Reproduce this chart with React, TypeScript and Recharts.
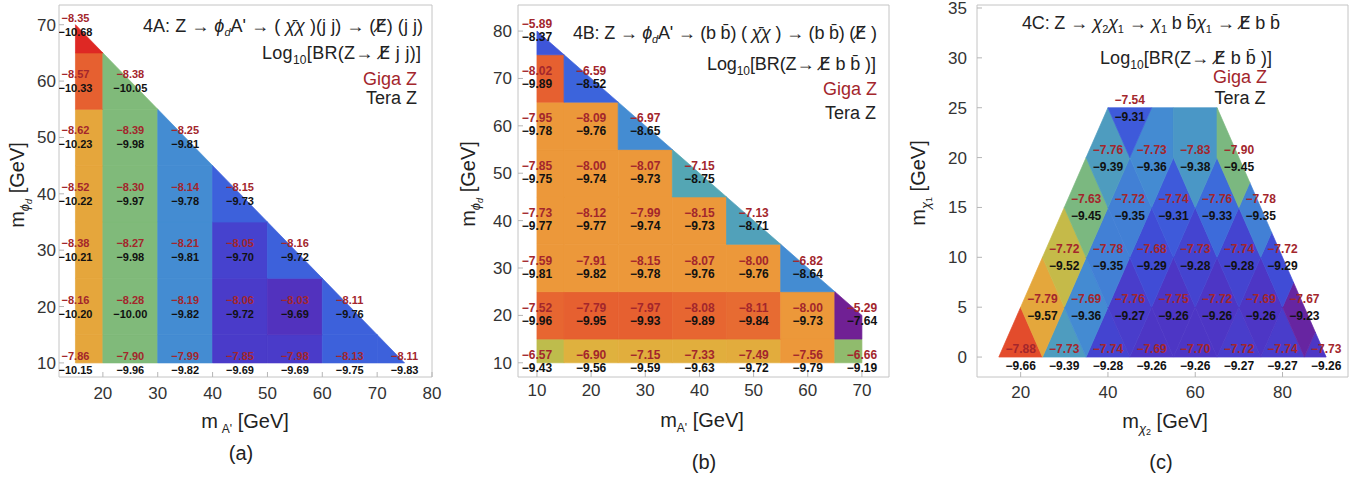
import React from 'react';
import { ScatterChart, Scatter, XAxis, YAxis, ReferenceArea, Customized } from 'recharts';

const FONT = '"Liberation Sans", Arial, Helvetica, sans-serif';
const SYM = '"DejaVu Sans", "Liberation Sans", sans-serif';

// ---------------- Panel (a): 4A ----------------
const mAprimeA = [15, 25, 35, 45, 55, 65, 75];
const mPhiA = [10, 20, 30, 40, 50, 60, 70];
const gigaA = [
  [-7.86, -7.9, -7.99, -7.85, -7.98, -8.13, -8.11],
  [-8.16, -8.28, -8.19, -8.06, -8.03, -8.11],
  [-8.38, -8.27, -8.21, -8.05, -8.16],
  [-8.52, -8.3, -8.14, -8.15],
  [-8.62, -8.39, -8.25],
  [-8.57, -8.38],
  [-8.35],
];
const teraA = [
  [-10.15, -9.96, -9.82, -9.69, -9.69, -9.75, -9.83],
  [-10.2, -10.0, -9.82, -9.72, -9.69, -9.76],
  [-10.21, -9.98, -9.81, -9.7, -9.72],
  [-10.22, -9.97, -9.78, -9.73],
  [-10.23, -9.98, -9.81],
  [-10.33, -10.05],
  [-10.68],
];
// density shade of each cell on the colour bar (0 = purple ... 1 = red)
const shadeA = [
  [0.75, 0.5, 0.3, 0.1, 0.1, 0.21, 0.21],
  [0.75, 0.5, 0.3, 0.1, 0.07, 0.21],
  [0.75, 0.5, 0.3, 0.12, 0.21],
  [0.75, 0.5, 0.3, 0.21],
  [0.75, 0.5, 0.3],
  [0.9, 0.5],
  [1.0],
];
const regionA: [number, number][] = [[15, 10], [75, 10], [15, 70]];
const xTicksA = [20, 30, 40, 50, 60, 70, 80];
const yTicksA = [10, 20, 30, 40, 50, 60, 70];

// ---------------- Panel (b): 4B ----------------
const mAprimeB = [10, 20, 30, 40, 50, 60, 70];
const mPhiB = [10, 20, 30, 40, 50, 60, 70, 80];
const gigaB = [
  [-6.57, -6.9, -7.15, -7.33, -7.49, -7.56, -6.66],
  [-7.52, -7.79, -7.97, -8.08, -8.11, -8.0, -5.29],
  [-7.59, -7.91, -8.15, -8.07, -8.0, -6.82],
  [-7.73, -8.12, -7.99, -8.15, -7.13],
  [-7.85, -8.0, -8.07, -7.15],
  [-7.95, -8.09, -6.97],
  [-8.02, -6.59],
  [-5.89],
];
const teraB = [
  [-9.43, -9.56, -9.59, -9.63, -9.72, -9.79, -9.19],
  [-9.96, -9.95, -9.93, -9.89, -9.84, -9.73, -7.64],
  [-9.81, -9.82, -9.78, -9.76, -9.76, -8.64],
  [-9.77, -9.77, -9.74, -9.73, -8.71],
  [-9.75, -9.74, -9.73, -8.75],
  [-9.78, -9.76, -8.65],
  [-9.89, -8.52],
  [-8.37],
];
const shadeB = [
  [0.62, 0.71, 0.72, 0.72, 0.73, 0.8, 0.53],
  [0.89, 0.9, 0.9, 0.89, 0.88, 0.8, 0.0],
  [0.8, 0.8, 0.8, 0.8, 0.8, 0.3],
  [0.8, 0.8, 0.8, 0.8, 0.38],
  [0.8, 0.8, 0.8, 0.4],
  [0.8, 0.8, 0.3],
  [0.9, 0.22],
  [0.18],
];
const regionB: [number, number][] = [[10, 10], [70, 10], [70, 20], [10, 80]];
const xTicksB = [10, 20, 30, 40, 50, 60, 70];
const yTicksB = [10, 20, 30, 40, 50, 60, 70, 80];

// ---------------- Panel (c): 4C ----------------
const mChi1C = [0, 5, 10, 15, 20, 25];
const mChi2C = [
  [20, 30, 40, 50, 60, 70, 80, 90],
  [25, 35, 45, 55, 65, 75, 85],
  [30, 40, 50, 60, 70, 80],
  [35, 45, 55, 65, 75],
  [40, 50, 60, 70],
  [45],
];
const gigaC = [
  [-7.88, -7.73, -7.74, -7.69, -7.7, -7.72, -7.74, -7.73],
  [-7.79, -7.69, -7.76, -7.75, -7.72, -7.69, -7.67],
  [-7.72, -7.78, -7.68, -7.73, -7.74, -7.72],
  [-7.63, -7.72, -7.74, -7.76, -7.78],
  [-7.76, -7.73, -7.83, -7.9],
  [-7.54],
];
const teraC = [
  [-9.66, -9.39, -9.28, -9.26, -9.26, -9.27, -9.27, -9.26],
  [-9.57, -9.36, -9.27, -9.26, -9.26, -9.26, -9.23],
  [-9.52, -9.35, -9.29, -9.28, -9.28, -9.29],
  [-9.45, -9.35, -9.31, -9.33, -9.35],
  [-9.39, -9.36, -9.38, -9.45],
  [-9.31],
];
const shadeRangeC = [-9.22, -9.69];
const regionC: [number, number][] = [[15, 0], [90, 0], [65, 25], [40, 25]];
const xTicksC = [20, 40, 60, 80];
const yTicksC = [0, 5, 10, 15, 20, 25, 30, 35];

// ---------------- helpers ----------------
type Pt = { x: number; y: number; giga: number; tera: number; shade: number };

const rainbowStops: [number, number[]][] = [
  [0.0, [112, 32, 148]],
  [0.08, [78, 52, 196]],
  [0.15, [64, 76, 214]],
  [0.22, [60, 100, 220]],
  [0.3, [68, 140, 210]],
  [0.4, [84, 166, 180]],
  [0.5, [128, 186, 122]],
  [0.6, [182, 190, 80]],
  [0.7, [222, 180, 62]],
  [0.8, [236, 152, 58]],
  [0.9, [230, 96, 48]],
  [1.0, [222, 40, 36]],
];
function rainbow(t: number) {
  const tt = Math.max(0, Math.min(1, t));
  for (let i = 1; i < rainbowStops.length; i++) {
    const [t1, c1] = rainbowStops[i];
    const [t0, c0] = rainbowStops[i - 1];
    if (tt <= t1) {
      const f = (tt - t0) / (t1 - t0);
      const c = c0.map((v, k) => Math.round(v + f * (c1[k] - v)));
      return `rgb(${c[0]},${c[1]},${c[2]})`;
    }
  }
  return 'rgb(222,40,36)';
}

function buildPoints(xsRows: number[][], ys: number[], giga: number[][], tera: number[][], shade: number[][]): Pt[] {
  const out: Pt[] = [];
  ys.forEach((y, r) => {
    giga[r].forEach((g, c) => {
      out.push({ x: xsRows[r][c], y, giga: g, tera: tera[r][c], shade: shade[r][c] });
    });
  });
  return out;
}

function clipHalf(poly: [number, number][], a: number, b: number, c: number) {
  const out: [number, number][] = [];
  for (let i = 0; i < poly.length; i++) {
    const P = poly[i];
    const Q = poly[(i + 1) % poly.length];
    const fp = a * P[0] + b * P[1] - c;
    const fq = a * Q[0] + b * Q[1] - c;
    if (fp <= 1e-9) out.push(P);
    if ((fp < -1e-9 && fq > 1e-9) || (fp > 1e-9 && fq < -1e-9)) {
      const t = fp / (fp - fq);
      out.push([P[0] + t * (Q[0] - P[0]), P[1] + t * (Q[1] - P[1])]);
    }
  }
  return out;
}

function voronoiCells(points: Pt[], region: [number, number][]) {
  return points.map((p, i) => {
    let poly = region.slice();
    points.forEach((q, j) => {
      if (i === j || poly.length === 0) return;
      const a = q.x - p.x;
      const b = q.y - p.y;
      const c = (q.x * q.x + q.y * q.y - p.x * p.x - p.y * p.y) / 2;
      poly = clipHalf(poly, a, b, c);
    });
    return poly;
  });
}

const fmt = (v: number) => v.toFixed(2).replace('-', '\u2212');

type PanelProps = {
  width: number;
  height: number;
  margin: { top: number; right: number; bottom: number; left: number };
  xDomain: [number, number];
  yDomain: [number, number];
  xTicks: number[];
  yTicks: number[];
  points: Pt[];
  region: [number, number][];
  xTickMargin: number;
  yTickMargin: number;
  redDy: number;
  blackDy: number;
  labelSize: number;
  annotations: () => React.ReactElement;
};

function Panel(props: PanelProps) {
  const { width, height, margin, xDomain, yDomain, xTicks, yTicks, points, region } = props;
  const polys = voronoiCells(points, region);
  const verts: { x: number; y: number }[] = [];
  const counts: number[] = [];
  polys.forEach((poly) => {
    counts.push(poly.length);
    poly.forEach(([x, y]) => verts.push({ x, y }));
  });
  const renderCells = (lp: any) => {
    const pts = lp.points || [];
    let k = 0;
    return (
      <g>
        {polys.map((poly, i) => {
          const seg = pts.slice(k, k + counts[i]);
          k += counts[i];
          if (seg.length < 3) return null;
          const col = rainbow(points[i].shade);
          return (
            <polygon
              key={i}
              points={seg.map((p: any) => `${p.x},${p.y}`).join(' ')}
              fill={col}
              stroke={col}
              strokeWidth={0.7}
              strokeLinejoin="round"
            />
          );
        })}
      </g>
    );
  };
  const renderLabel = (sp: any) => {
    const { cx, cy, payload } = sp;
    return (
      <g>
        <text x={cx} y={cy + props.redDy} textAnchor="middle" fontSize={props.labelSize} fontWeight="bold" fill="#a3262c" fontFamily={FONT}>
          {fmt(payload.giga)}
        </text>
        <text x={cx} y={cy + props.blackDy} textAnchor="middle" fontSize={props.labelSize} fontWeight="bold" fill="#111" fontFamily={FONT}>
          {fmt(payload.tera)}
        </text>
      </g>
    );
  };
  const tickStyle = { fontSize: 17, fill: '#333', fontFamily: FONT };
  const Ann = props.annotations;
  return (
    <ScatterChart width={width} height={height} margin={margin}>
      <XAxis
        type="number"
        dataKey="x"
        domain={xDomain}
        ticks={xTicks}
        interval={0}
        allowDataOverflow
        axisLine={false}
        tickLine={{ stroke: '#b5b5b5' }}
        tickSize={-5}
        tickMargin={props.xTickMargin + 5}
        height={40}
        tick={tickStyle}
      />
      <YAxis
        type="number"
        dataKey="y"
        domain={yDomain}
        ticks={yTicks}
        interval={0}
        allowDataOverflow
        axisLine={false}
        tickLine={{ stroke: '#b5b5b5' }}
        tickSize={-5}
        tickMargin={props.yTickMargin + 5}
        width={50}
        tick={tickStyle}
      />
      <ReferenceArea
        x1={xDomain[0]}
        x2={xDomain[1]}
        y1={yDomain[0]}
        y2={yDomain[1]}
        fill="none"
        fillOpacity={0}
        stroke="#c4c4c4"
        strokeWidth={1}
        ifOverflow="visible"
      />
      <Scatter
        data={verts}
        isAnimationActive={false}
        shape={() => <g />}
        line={renderCells as any}
        lineType="joint"
      />
      <Scatter data={points} isAnimationActive={false} shape={renderLabel as any} />
      <Customized component={Ann as any} />
    </ScatterChart>
  );
}

const T = { fontFamily: FONT, fill: '#222' } as const;

function AnnA() {
  return (
    <g>
      <text x={423} y={31.5} textAnchor="end" fontSize={18} textLength={280} lengthAdjust="spacing" {...T}>
        <tspan>{'4A: Z \u2192 '}</tspan>
        <tspan fontStyle="italic">{'\u03d5'}</tspan>
        <tspan fontSize={11} dy={4} fontStyle="italic">d</tspan>
        <tspan dy={-4}>{"A' \u2192 ( "}</tspan>
        <tspan fontStyle="italic">{'\u03c7\u0304\u03c7'}</tspan>
        <tspan>{' )(j j) \u2192 ('}</tspan>
        <tspan fontFamily={SYM}>{'E\u0338'}</tspan>
        <tspan>{') (j j)'}</tspan>
      </text>
      <text x={421} y={59} textAnchor="end" fontSize={18} textLength={159} lengthAdjust="spacing" {...T}>
        <tspan>Log</tspan>
        <tspan fontSize={12} dy={5}>10</tspan>
        <tspan dy={-5}>{'[BR(Z\u2192 '}</tspan>
        <tspan fontFamily={SYM}>{'E\u0338'}</tspan>
        <tspan>{' j j)]'}</tspan>
      </text>
      <text x={417} y={84.5} textAnchor="end" fontSize={18} fontFamily={FONT} fill="#a3262c">Giga Z</text>
      <text x={417} y={103.5} textAnchor="end" fontSize={18} {...T}>Tera Z</text>
      <text x={245} y={428} textAnchor="middle" fontSize={20} {...T}>
        <tspan>m</tspan>
        <tspan fontSize={12} dx={4} dy={5}>{"A'"}</tspan>
        <tspan dy={-5}>{' [GeV]'}</tspan>
      </text>
      <text x={24} y={185} textAnchor="middle" fontSize={20} transform="rotate(-90, 24, 185)" {...T}>
        <tspan>m</tspan>
        <tspan fontSize={13} dy={5} fontStyle="italic">{'\u03d5'}</tspan>
        <tspan fontSize={9} dy={3} fontStyle="italic">d</tspan>
        <tspan dy={-8}>{' [GeV]'}</tspan>
      </text>
      <text x={241} y={460} textAnchor="middle" fontSize={20} {...T}>(a)</text>
    </g>
  );
}

function AnnB() {
  return (
    <g>
      <text x={422} y={38.5} textAnchor="end" fontSize={18} textLength={304} lengthAdjust="spacing" {...T}>
        <tspan>{'4B: Z \u2192 '}</tspan>
        <tspan fontStyle="italic">{'\u03d5'}</tspan>
        <tspan fontSize={11} dy={4} fontStyle="italic">d</tspan>
        <tspan dy={-4}>{"A' \u2192 (b b\u0304) ( "}</tspan>
        <tspan fontStyle="italic">{'\u03c7\u0304\u03c7'}</tspan>
        <tspan>{' ) \u2192 (b b\u0304) ('}</tspan>
        <tspan fontFamily={SYM}>{'E\u0338'}</tspan>
        <tspan>{' )'}</tspan>
      </text>
      <text x={421} y={69.5} textAnchor="end" fontSize={18} textLength={169} lengthAdjust="spacing" {...T}>
        <tspan>Log</tspan>
        <tspan fontSize={12} dy={5}>10</tspan>
        <tspan dy={-5}>{'[BR(Z\u2192 '}</tspan>
        <tspan fontFamily={SYM}>{'E\u0338'}</tspan>
        <tspan>{' b b\u0304 )]'}</tspan>
      </text>
      <text x={422} y={94.5} textAnchor="end" fontSize={18} fontFamily={FONT} fill="#a3262c">Giga Z</text>
      <text x={421} y={118.5} textAnchor="end" fontSize={18} {...T}>Tera Z</text>
      <text x={247} y={427} textAnchor="middle" fontSize={20} {...T}>
        <tspan>m</tspan>
        <tspan fontSize={12} dy={5}>{"A'"}</tspan>
        <tspan dy={-5}>{' [GeV]'}</tspan>
      </text>
      <text x={20} y={184} textAnchor="middle" fontSize={20} transform="rotate(-90, 20, 184)" {...T}>
        <tspan>m</tspan>
        <tspan fontSize={13} dy={5} fontStyle="italic">{'\u03d5'}</tspan>
        <tspan fontSize={9} dy={3} fontStyle="italic">d</tspan>
        <tspan dy={-8}>{' [GeV]'}</tspan>
      </text>
      <text x={249} y={469} textAnchor="middle" fontSize={20} {...T}>(b)</text>
    </g>
  );
}

function AnnC() {
  return (
    <g>
      <text x={375} y={28.5} textAnchor="end" fontSize={18} textLength={258} lengthAdjust="spacing" {...T}>
        <tspan>{'4C: Z \u2192 '}</tspan>
        <tspan fontStyle="italic">{'\u03c7'}</tspan>
        <tspan fontSize={11} dy={4}>2</tspan>
        <tspan dy={-4} fontStyle="italic">{'\u03c7'}</tspan>
        <tspan fontSize={11} dy={4}>1</tspan>
        <tspan dy={-4}>{' \u2192 '}</tspan>
        <tspan fontStyle="italic">{'\u03c7'}</tspan>
        <tspan fontSize={11} dy={4}>1</tspan>
        <tspan dy={-4}>{' b b\u0304'}</tspan>
        <tspan fontStyle="italic">{'\u03c7'}</tspan>
        <tspan fontSize={11} dy={4}>1</tspan>
        <tspan dy={-4}>{' \u2192 '}</tspan>
        <tspan fontFamily={SYM}>{'E\u0338'}</tspan>
        <tspan>{'  b b\u0304'}</tspan>
      </text>
      <text x={367} y={63.5} textAnchor="end" fontSize={18} textLength={172} lengthAdjust="spacing" {...T}>
        <tspan>Log</tspan>
        <tspan fontSize={12} dy={5}>10</tspan>
        <tspan dy={-5}>{'[BR(Z\u2192 '}</tspan>
        <tspan fontFamily={SYM}>{'E\u0338'}</tspan>
        <tspan>{' b b\u0304 )]'}</tspan>
      </text>
      <text x={335} y={82.5} textAnchor="middle" fontSize={18} fontFamily={FONT} fill="#a3262c">Giga Z</text>
      <text x={335} y={103.5} textAnchor="middle" fontSize={18} {...T}>Tera Z</text>
      <text x={260} y={428} textAnchor="middle" fontSize={20} {...T}>
        <tspan>m</tspan>
        <tspan fontSize={13} dy={5} fontStyle="italic">{'\u03c7'}</tspan>
        <tspan fontSize={9} dy={2}>2</tspan>
        <tspan dy={-7}>{' [GeV]'}</tspan>
      </text>
      <text x={20} y={183} textAnchor="middle" fontSize={20} transform="rotate(-90, 20, 183)" {...T}>
        <tspan>m</tspan>
        <tspan fontSize={13} dy={5} fontStyle="italic">{'\u03c7'}</tspan>
        <tspan fontSize={9} dy={2}>1</tspan>
        <tspan dy={-7}>{' [GeV]'}</tspan>
      </text>
      <text x={256} y={469} textAnchor="middle" fontSize={20} {...T}>(c)</text>
    </g>
  );
}

const pointsA = buildPoints(mPhiA.map(() => mAprimeA), mPhiA, gigaA, teraA, shadeA);
const pointsB = buildPoints(mPhiB.map(() => mAprimeB), mPhiB, gigaB, teraB, shadeB);
const shadeC = teraC.map((row) => row.map((v) => (shadeRangeC[0] - v) / (shadeRangeC[0] - shadeRangeC[1])));
const pointsC = buildPoints(mChi2C, mChi1C, gigaC, teraC, shadeC);

export default function App() {
  return (
    <div style={{ position: 'absolute', left: 0, top: 0, width: 1367, height: 480, background: '#fff' }}>
      <div style={{ position: 'absolute', left: 0, top: 0 }}>
        <Panel
          width={450}
          height={480}
          margin={{ top: 5, right: 18, bottom: 63, left: 9 }}
          xDomain={[12, 80]}
          yDomain={[7.5, 73.5]}
          xTicks={xTicksA}
          yTicks={yTicksA}
          points={pointsA}
          region={regionA}
          xTickMargin={10}
          yTickMargin={3}
          redDy={-3}
          blackDy={11}
          labelSize={11}
          annotations={AnnA}
        />
      </div>
      <div style={{ position: 'absolute', left: 455, top: 0 }}>
        <Panel
          width={450}
          height={480}
          margin={{ top: 5, right: 16, bottom: 63, left: 13 }}
          xDomain={[6.5, 75]}
          yDomain={[7, 85.5]}
          xTicks={xTicksB}
          yTicks={yTicksB}
          points={pointsB}
          region={regionB}
          xTickMargin={7}
          yTickMargin={6}
          redDy={-3.5}
          blackDy={9.5}
          labelSize={12}
          annotations={AnnB}
        />
      </div>
      <div style={{ position: 'absolute', left: 905, top: 0 }}>
        <Panel
          width={462}
          height={480}
          margin={{ top: 5, right: 19, bottom: 63, left: 22 }}
          xDomain={[10, 95]}
          yDomain={[-2, 35.3]}
          xTicks={xTicksC}
          yTicks={yTicksC}
          points={pointsC}
          region={regionC}
          xTickMargin={9}
          yTickMargin={10}
          redDy={-4}
          blackDy={13}
          labelSize={12}
          annotations={AnnC}
        />
      </div>
    </div>
  );
}
